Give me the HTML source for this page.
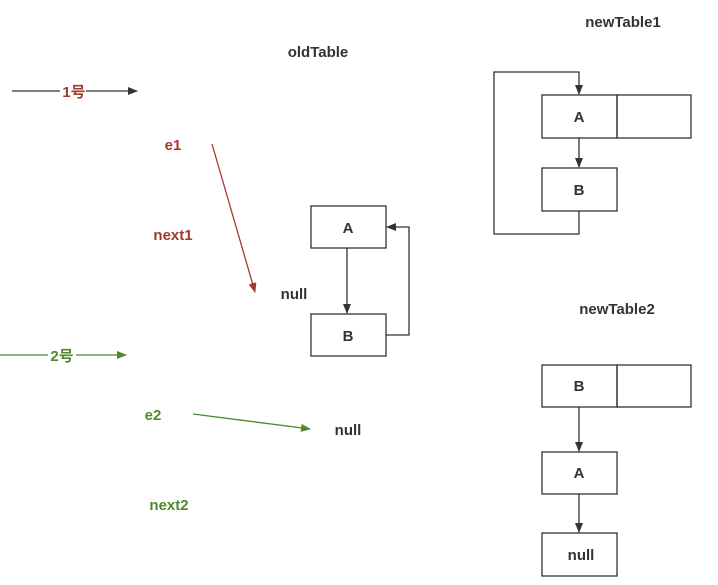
<!DOCTYPE html>
<html><head><meta charset="utf-8"><style>
html,body{margin:0;padding:0;background:#fff;}
svg{display:block;}
text{font-family:"Liberation Sans","Noto Sans CJK SC",sans-serif;font-weight:bold;font-size:15px;}
</style></head><body>
<svg width="718" height="585" viewBox="0 0 718 585" xmlns="http://www.w3.org/2000/svg">
<defs>
<marker id="ak" markerWidth="10" markerHeight="10" refX="9" refY="5" orient="auto" markerUnits="userSpaceOnUse"><path d="M0,1 L10,5 L0,9 z" fill="#333"/></marker>
<marker id="ar" markerWidth="10" markerHeight="10" refX="9" refY="5" orient="auto" markerUnits="userSpaceOnUse"><path d="M0,1 L10,5 L0,9 z" fill="#a33a2e"/></marker>
<marker id="ag" markerWidth="10" markerHeight="10" refX="9" refY="5" orient="auto" markerUnits="userSpaceOnUse"><path d="M0,1 L10,5 L0,9 z" fill="#4f8a2a"/></marker>
</defs>
<g fill="none" stroke="#333" stroke-width="1.3">
<!-- 1号 arrow -->
<line x1="12" y1="91" x2="60" y2="91"/>
<line x1="86" y1="91" x2="137" y2="91" marker-end="url(#ak)"/>
<!-- oldTable -->
<rect x="311" y="206" width="75" height="42"/>
<rect x="311" y="314" width="75" height="42"/>
<line x1="347" y1="248" x2="347" y2="313" marker-end="url(#ak)"/>
<polyline points="386,335 409,335 409,227 387,227" marker-end="url(#ak)"/>
<!-- newTable1 -->
<rect x="542" y="95" width="75" height="43"/>
<rect x="617" y="95" width="74" height="43"/>
<rect x="542" y="168" width="75" height="43"/>
<line x1="579" y1="138" x2="579" y2="167" marker-end="url(#ak)"/>
<polyline points="579,211 579,234 494,234 494,72 579,72 579,94" marker-end="url(#ak)"/>
<!-- newTable2 -->
<rect x="542" y="365" width="75" height="42"/>
<rect x="617" y="365" width="74" height="42"/>
<rect x="542" y="452" width="75" height="42"/>
<rect x="542" y="533" width="75" height="43"/>
<line x1="579" y1="407" x2="579" y2="451" marker-end="url(#ak)"/>
<line x1="579" y1="494" x2="579" y2="532" marker-end="url(#ak)"/>
</g>
<!-- red arrow -->
<line x1="212" y1="144" x2="255" y2="292" stroke="#a33a2e" stroke-width="1.3" marker-end="url(#ar)"/>
<!-- green arrows -->
<line x1="0" y1="355" x2="48" y2="355" stroke="#4f8a2a" stroke-width="1.3"/>
<line x1="76" y1="355" x2="126" y2="355" stroke="#4f8a2a" stroke-width="1.3" marker-end="url(#ag)"/>
<line x1="193" y1="414" x2="310" y2="429" stroke="#4f8a2a" stroke-width="1.3" marker-end="url(#ag)"/>
<g fill="#333">
<text x="318" y="57" text-anchor="middle">oldTable</text>
<text x="623" y="27" text-anchor="middle">newTable1</text>
<text x="617" y="314" text-anchor="middle">newTable2</text>
<text x="348" y="233" text-anchor="middle">A</text>
<text x="348" y="341" text-anchor="middle">B</text>
<text x="294" y="299" text-anchor="middle">null</text>
<text x="348" y="435" text-anchor="middle">null</text>
<text x="579" y="122" text-anchor="middle">A</text>
<text x="579" y="195" text-anchor="middle">B</text>
<text x="579" y="391" text-anchor="middle">B</text>
<text x="579" y="478" text-anchor="middle">A</text>
<text x="581" y="560" text-anchor="middle">null</text>
</g>
<g fill="#a33a2e">
<text x="74" y="97" text-anchor="middle">1号</text>
<text x="173" y="150" text-anchor="middle">e1</text>
<text x="173" y="240" text-anchor="middle">next1</text>
</g>
<g fill="#4f8a2a">
<text x="62" y="361" text-anchor="middle">2号</text>
<text x="153" y="420" text-anchor="middle">e2</text>
<text x="169" y="510" text-anchor="middle">next2</text>
</g>
</svg>
</body></html>
